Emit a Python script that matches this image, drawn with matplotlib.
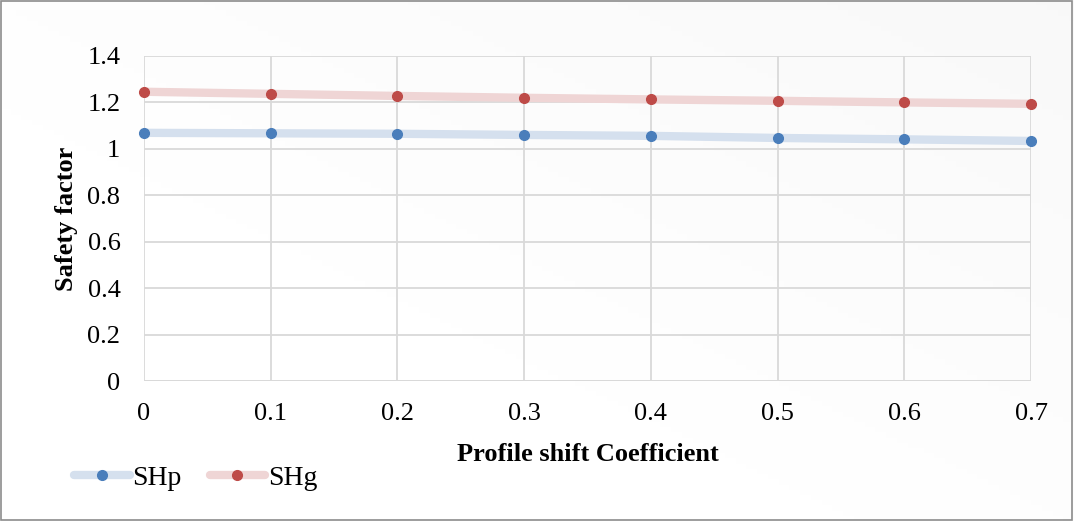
import matplotlib.pyplot as plt
import numpy as np

plt.rcParams["font.family"] = ["Liberation Serif", "DejaVu Serif"]

shift_coef = [0, 0.1, 0.2, 0.3, 0.4, 0.5, 0.6, 0.7]
sh_p = [1.069, 1.067, 1.065, 1.060, 1.056, 1.047, 1.041, 1.034]
sh_g = [1.246, 1.237, 1.228, 1.220, 1.213, 1.207, 1.200, 1.194]

BLUE = "#4a7ebb"
RED = "#be4b48"
BLUE_LINE = "#d5e0ee"
RED_LINE = "#efd5d5"

fig = plt.figure(figsize=(10.74, 5.21), dpi=100)

# light grey gradient background
bg = fig.add_axes([0, 0, 1, 1], zorder=-10)
gx, gy = np.meshgrid(np.linspace(0, 1, 200), np.linspace(0, 1, 100))
grad = 1.0 - 0.04 * np.clip((gx + (1 - gy)) / 2 - 0.3, 0, 1)
bg.imshow(grad, cmap="gray", vmin=0, vmax=1, extent=[0, 1, 0, 1],
          aspect="auto", origin="upper")
bg.set_xlim(0, 1)
bg.set_ylim(0, 1)
bg.axis("off")
bg.add_patch(plt.Rectangle((0.001, 0.002), 0.997, 0.996, fill=False,
                           edgecolor="#8c8c8c", linewidth=1.2))

ax = fig.add_axes([144 / 1074, 1 - 381 / 521, (1031 - 144) / 1074, (381 - 56) / 521])
ax.patch.set_alpha(0)

ax.plot(shift_coef, sh_p, color=BLUE_LINE, linewidth=6, solid_capstyle="round",
        marker="o", markersize=7, markerfacecolor=BLUE, markeredgecolor=BLUE,
        label="SHp", clip_on=False)
ax.plot(shift_coef, sh_g, color=RED_LINE, linewidth=6, solid_capstyle="round",
        marker="o", markersize=7, markerfacecolor=RED, markeredgecolor=RED,
        label="SHg", clip_on=False)

ax.set_xlim(0, 0.7)
ax.set_ylim(0, 1.4)
ax.set_xticks(shift_coef)
ax.set_xticklabels(["0", "0.1", "0.2", "0.3", "0.4", "0.5", "0.6", "0.7"])
ax.set_yticks([0, 0.2, 0.4, 0.6, 0.8, 1.0, 1.2, 1.4])
ax.set_yticklabels(["0", "0.2", "0.4", "0.6", "0.8", "1", "1.2", "1.4"])
ax.tick_params(length=0, labelsize=19)
ax.tick_params(axis="x", pad=16)
ax.tick_params(axis="y", pad=17)
ax.grid(True, color="#d9d9d9", linewidth=1.3)
ax.set_axisbelow(True)
for s in ax.spines.values():
    s.set_visible(False)
ax.axhline(0, color="#d9d9d9", linewidth=1.3, zorder=0)

ax.set_xlabel("Profile shift Coefficient", fontsize=19, fontweight="bold", labelpad=13)
ax.set_ylabel("Safety factor", fontsize=19, fontweight="bold", labelpad=7)

fig.legend(loc="center left", bbox_to_anchor=(0.069, 1 - 478 / 521), ncol=2,
           frameon=False, fontsize=20, handlelength=2.0, handletextpad=0.1,
           columnspacing=1.0, borderaxespad=0, borderpad=0)

fig.savefig("out.png", dpi=100)
